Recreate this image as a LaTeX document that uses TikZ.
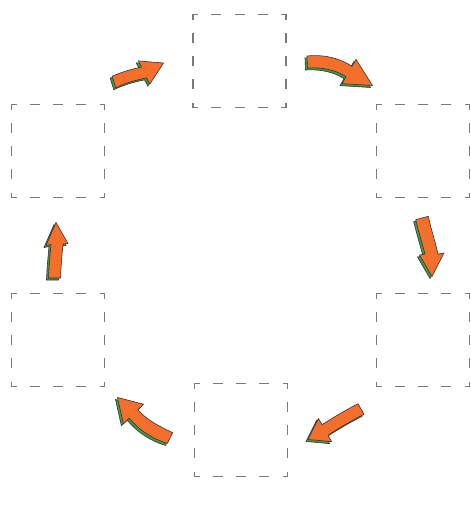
\documentclass[tikz,border=0pt]{standalone}
\usetikzlibrary{calc}
\definecolor{arrorange}{HTML}{F46F2C}
\definecolor{arrgreen}{HTML}{3D9A45}
\definecolor{boxgray}{HTML}{7A7A7A}
\tikzset{
  dashbox/.style={draw=boxgray, line width=1.1pt, minimum width=93pt, minimum height=93pt,
    inner sep=0pt, dash pattern=on 10pt off 13.25pt, dash phase=5pt},
  arrshadow/.style={fill=arrgreen, draw=black!80, line width=0.6pt, shift={(-2,2)}},
  arrbody/.style={fill=arrorange, draw=black!80, line width=0.6pt, line join=round},
}
\newcommand{\cyclearrow}[1]{%
  \path[arrshadow] #1;
  \path[arrbody] #1;}
\begin{document}
\begin{tikzpicture}[x=1pt,y=-1pt]
\useasboundingbox (0,0) rectangle (471,512);
\fill[white] (0,0) rectangle (471,512);
% boxes
\node[dashbox] (top) at (239.5,61) {};
\node[dashbox] (rtop) at (423,151) {};
\node[dashbox] (rbot) at (423,340) {};
\node[dashbox] (bot) at (241,430) {};
\node[dashbox] (lbot) at (58,340) {};
\node[dashbox] (ltop) at (58,151) {};
% arrow 1 (left-top -> top)
\cyclearrow{(112.2,76.2) .. controls (122,72) and (132,69) .. (141.4,67.1) -- (138.2,60.9) -- (163.5,63) -- (149.8,84.1) -- (146.6,77.9) .. controls (136,80) and (125,83) .. (115.8,87.8) -- cycle}
% arrow 2 (top -> right-top)
\cyclearrow{(307,56) .. controls (325,54) and (341,59) .. (352,66.3) -- (356,59.4) -- (372.5,85.5) -- (342,83.6) -- (346,76.7) .. controls (336,70) and (322,67) .. (307.5,68) -- cycle}
% arrow 3 (right-top -> right-bottom)
\cyclearrow{(415.7,219.7) .. controls (419,233) and (422,243) .. (425,254) -- (419.5,255) -- (432,276.5) -- (444,253) -- (438,254) .. controls (435,241) and (431,229) .. (428.3,216.3) -- cycle}
% arrow 4 (right-bottom -> bottom)
\cyclearrow{(358,403.7) .. controls (346,410) and (334,417) .. (322,424.7) -- (318.5,418.4) -- (308,439.5) -- (331.5,441.6) -- (328,435.3) .. controls (339,428) and (351,421) .. (364,414.3) -- cycle}
% arrow 5 (bottom -> left-bottom)
\cyclearrow{(172.6,432.6) .. controls (158,426) and (146,419) .. (137.8,409.8) -- (143.6,404.2) -- (117.5,397.5) -- (123.4,423.8) -- (129.2,418.2) .. controls (140,431) and (153,439) .. (167.4,443.4) -- cycle}
% arrow 6 (left-bottom -> left-top)
\cyclearrow{(48.5,278) .. controls (49,266) and (50,255) .. (51,244.5) -- (46,245.5) -- (56,222.5) -- (68,243.5) -- (63,244) .. controls (62,255) and (61,266) .. (60.5,278) -- cycle}
\end{tikzpicture}
\end{document}
